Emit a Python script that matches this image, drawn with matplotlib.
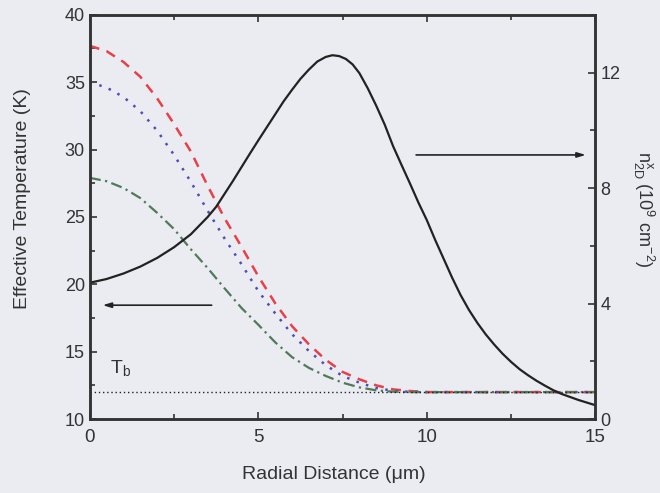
import matplotlib
matplotlib.use("Agg")
import matplotlib.pyplot as plt
from matplotlib.ticker import MultipleLocator

plt.rcParams['font.family'] = ['Liberation Sans', 'DejaVu Sans']
plt.rcParams['mathtext.fontset'] = 'custom'
plt.rcParams['mathtext.rm'] = 'Liberation Sans'
plt.rcParams['mathtext.it'] = 'Liberation Sans'

# ---- data ----
r_density = [0, 0.5, 1.0, 1.5, 2.0, 2.5, 3.0, 3.5, 3.75, 4.0, 4.25, 4.5, 4.75,
             5.0, 5.25, 5.5, 5.75, 6.0, 6.25, 6.5, 6.75, 7.0, 7.2, 7.4, 7.6, 7.8,
             8.0, 8.25, 8.5, 8.75, 9.0, 9.25, 9.5, 9.75, 10.0, 10.25, 10.5,
             10.75, 11.0, 11.25, 11.5, 11.75, 12.0, 12.25, 12.5, 12.75, 13.0,
             13.25, 13.5, 13.75, 14.0, 14.5, 15.0]
n2d = [4.72, 4.85, 5.04, 5.28, 5.58, 5.95, 6.4, 7.0, 7.35, 7.8, 8.25, 8.72, 9.19,
       9.65, 10.1, 10.55, 11.0, 11.4, 11.78, 12.1, 12.38, 12.54, 12.6, 12.57,
       12.47, 12.28, 11.98, 11.45, 10.85, 10.2, 9.45, 8.8, 8.16, 7.5, 6.89, 6.2,
       5.55, 4.9, 4.3, 3.78, 3.33, 2.93, 2.58, 2.26, 1.98, 1.73, 1.52, 1.33,
       1.16, 1.0, 0.87, 0.66, 0.48]

r_temp = [0, 0.5, 1.0, 1.5, 2.0, 2.5, 3.0, 3.5, 4.0, 4.5, 5.0, 5.5, 6.0, 6.5,
          7.0, 7.5, 8.0, 8.5, 9.0, 9.5, 10.0, 11.0, 12.0, 13.0, 14.0, 15.0]
t_red = [37.7, 37.3, 36.5, 35.4, 33.8, 31.9, 29.85, 27.3, 24.9, 22.8, 20.6, 18.6,
         16.9, 15.55, 14.4, 13.5, 12.95, 12.5, 12.2, 12.08, 12.0, 12.0, 12.0,
         12.0, 12.0, 12.0]
t_blue = [35.0, 34.6, 33.9, 32.85, 31.4, 29.6, 27.6, 25.45, 23.4, 21.5, 19.5,
          17.85, 16.3, 15.05, 14.0, 13.2, 12.7, 12.3, 12.1, 12.02, 12.0, 12.0,
          12.0, 12.0, 12.0, 12.0]
t_green = [27.9, 27.65, 27.15, 26.4, 25.3, 24.1, 22.6, 21.2, 19.7, 18.25, 17.0,
           15.7, 14.6, 13.8, 13.2, 12.7, 12.35, 12.13, 12.03, 12.0, 12.0, 12.0,
           12.0, 12.0, 12.0, 12.0]
r_tb = [0, 15]
t_b = [12.0, 12.0]

x_ticks = [0, 5, 10, 15]
y_ticks = [10, 15, 20, 25, 30, 35, 40]
y2_ticks = [0, 4, 8, 12]

# annotation arrow positions (left-axis data coords)
arrow_left = ((3.7, 18.45), (0.3, 18.45))
arrow_right = ((9.6, 29.6), (14.8, 29.6))

BG = '#ebebf2'
TXT = '#333333'
fig = plt.figure(figsize=(6.6, 4.93), dpi=100, facecolor=BG)
ax = fig.add_axes([0.136, 0.150, 0.766, 0.820], facecolor=BG)
ax2 = ax.twinx()

spine_c = '#333333'
ax.plot(r_temp, t_red, color='#e8404a', lw=1.8, ls=(0, (4, 3)))
ax.plot(r_temp, t_blue, color='#4d4db8', lw=1.8, ls=(0, (1, 3)))
ax.plot(r_temp, t_green, color='#4f7a58', lw=1.6, ls=(0, (5, 2, 1, 2)))
ax.plot(r_tb, t_b, color='#222222', lw=1.0, ls=(0, (1, 2)))
ax2.plot(r_density, n2d, color='#222222', lw=1.6, solid_joinstyle='round')

ax.set_xlim(0, 15)
ax.set_ylim(10, 40)
ax2.set_ylim(0, 14)

ax.set_xticks(x_ticks)
ax.set_yticks(y_ticks)
ax2.set_yticks(y2_ticks)
ax.xaxis.set_minor_locator(MultipleLocator(2.5))
ax.yaxis.set_minor_locator(MultipleLocator(2.5))
ax2.yaxis.set_minor_locator(MultipleLocator(2))

for a in (ax, ax2):
    for s in a.spines.values():
        s.set_color(spine_c)
        s.set_linewidth(1.8)
ax.tick_params(which='both', direction='in', top=True, right=False,
               labelsize=13, color=spine_c, labelcolor=TXT, width=1.2)
ax.tick_params(which='major', length=5)
ax.tick_params(which='minor', length=3.5)
ax2.tick_params(which='both', direction='in', labelsize=13, color=spine_c,
                labelcolor=TXT, width=1.2)
ax2.tick_params(which='major', length=5)
ax2.tick_params(which='minor', length=3.5)
ax.tick_params(axis='x', pad=7, labelsize=13.5)

ax.set_xlabel('Radial Distance (\u03bcm)', fontsize=14, color=TXT)
ax.xaxis.set_label_coords(0.483, -0.115)
ax.set_ylabel('Effective Temperature (K)', fontsize=14, color=TXT)
ax.yaxis.set_label_coords(-0.117, 0.545)
ax2.set_ylabel('$\\mathregular{n^{x}_{2D}}$ (10$^9$ cm$^{-2}$)', fontsize=13,
               color=TXT, rotation=270)
ax2.yaxis.label.set_va('bottom')
ax2.yaxis.set_label_coords(1.071, 0.52)

ax.text(0.59, 13.4, '$\\mathregular{T_b}$', fontsize=14, color=TXT,
        ha='left', va='baseline')

for start, end in (arrow_left, arrow_right):
    ax.annotate('', xy=end, xytext=start,
                arrowprops=dict(arrowstyle='-|>,head_length=0.5,head_width=0.15',
                                color='#222222', lw=1.2))

fig.savefig('out.png', dpi=100, facecolor=BG)
